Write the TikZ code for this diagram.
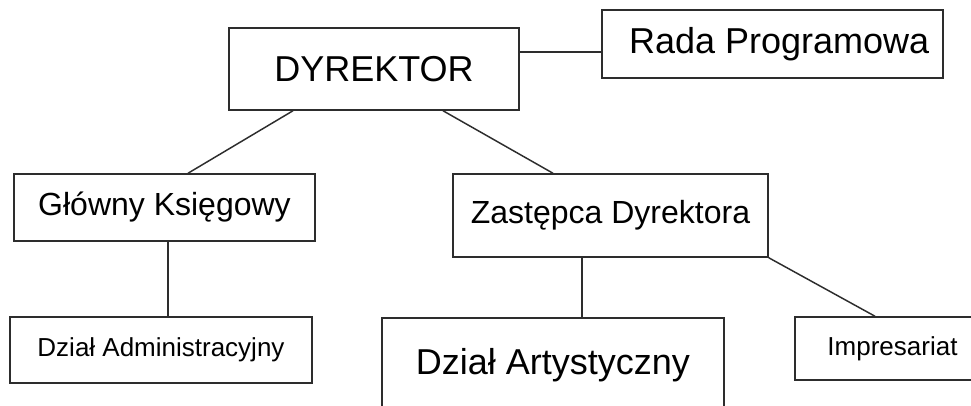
\documentclass[tikz,border=0pt]{standalone}
\usepackage{fontspec}
\setmainfont{Liberation Sans}
\definecolor{boxline}{RGB}{45,45,45}
\tikzset{
  orgbox/.style={
    rectangle, draw=boxline, line width=1.1pt,
    fill=white, inner sep=0pt, align=center
  },
  orgbox-big/.style={orgbox, font=\fontsize{27}{30}\selectfont},
  orgbox-mid/.style={orgbox, font=\fontsize{24}{28}\selectfont},
  orgbox-small/.style={orgbox, font=\fontsize{19.5}{23}\selectfont},
  orgline/.style={draw=boxline, line width=1.1pt}
}
\begin{document}
\begin{tikzpicture}[x=0.75pt, y=-0.75pt]
  \clip (0,0) rectangle (971,405);
  \fill[white] (0,0) rectangle (971,405);

  \node[orgbox-big, minimum width=217.5pt, minimum height=61.5pt] (dyr) at (374,69) {DYREKTOR};
  \node[orgbox-big, minimum width=255.75pt, minimum height=51pt] (rada) at (772.5,44) {\hspace*{10pt}Rada Programowa};
  \node[orgbox-mid, minimum width=225.75pt, minimum height=50.25pt] (ksieg) at (164.5,207.5) {Główny Księgowy};
  \node[orgbox-mid, minimum width=236.25pt, minimum height=62.25pt] (zast) at (610.5,215.5) {Zastępca Dyrektora};
  \node[orgbox-small, minimum width=226.5pt, minimum height=49.5pt] (admin) at (161,350) {Dział Administracyjny};
  \node[orgbox-big, minimum width=256.5pt, minimum height=70.5pt] (art) at (553,365) {Dział Artystyczny};
  \node[orgbox-small, minimum width=146.25pt, minimum height=47.25pt] (impr) at (892.5,348.5) {Impresariat};

  \draw[orgline] ([yshift=-6pt]rada.west) -- ([yshift=-6pt]rada.west -| dyr.east);
  \draw[orgline] ([xshift=-60.75pt]dyr.south) -- ([xshift=17.6pt]ksieg.north);
  \draw[orgline] ([xshift=51.75pt]dyr.south) -- ([xshift=-43.1pt]zast.north);
  \draw[orgline] ([xshift=2.6pt]ksieg.south) -- ([xshift=2.6pt]ksieg.south |- admin.north);
  \draw[orgline] ([xshift=-21.4pt]zast.south) -- ([xshift=-21.4pt]zast.south |- art.north);
  \draw[orgline] (zast.south east) -- ([xshift=-13.1pt]impr.north);
\end{tikzpicture}
\end{document}
